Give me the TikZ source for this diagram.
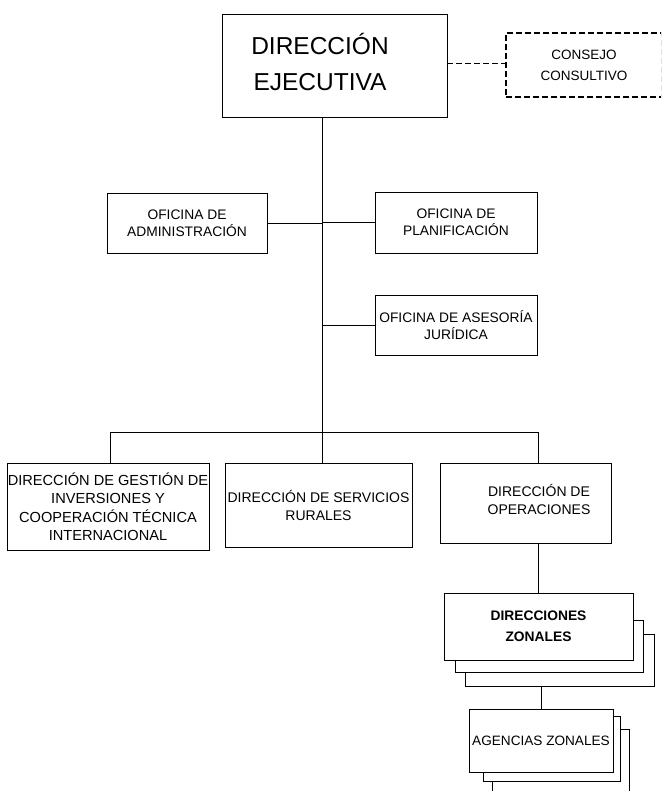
\documentclass[tikz,border=0pt]{standalone}
\usepackage{fontspec}
\setmainfont{Liberation Sans}
\begin{document}
\begin{tikzpicture}[x=1pt,y=-1pt,line width=0.9pt,
  box/.style={draw,fill=white,rectangle,inner sep=0pt,align=center},
  txt/.style={inner sep=0pt,align=center},
  ofi/.style={font=\fontsize{13.8}{17}\selectfont},
  dir3/.style={font=\fontsize{14}{18}\selectfont},
  cons/.style={draw,dashed,dash pattern=on 6pt off 3pt,line width=1.4pt,rectangle,inner sep=0pt,align=center}]
\path[use as bounding box,clip] (0,0) rectangle (661,791);
\fill[white] (0,0) rectangle (661,791);
% top
\node[box,minimum width=225pt,minimum height=103pt] (dir) at (334.5,65.5) {};
\node[txt,font=\fontsize{24.5}{36}\selectfont] (dirt) at (320,62) {DIRECCIÓN\\EJECUTIVA};
\node[cons,minimum width=156pt,minimum height=64pt,font=\fontsize{13.5}{21}\selectfont] (cons) at (584,65) {CONSEJO\\CONSULTIVO};
\draw[dashed,dash pattern=on 6pt off 3pt] (dir.east |- 0,63) -- (cons.west |- 0,63);
% offices
\node[box,ofi,minimum width=160pt,minimum height=60pt] (adm) at (187,223) {OFICINA DE\\ADMINISTRACIÓN};
\node[box,ofi,minimum width=162pt,minimum height=61pt] (plan) at (456,222.5) {OFICINA DE\\PLANIFICACIÓN};
\node[box,ofi,minimum width=162pt,minimum height=60pt] (jur) at (456,325) {OFICINA DE ASESORÍA\\JURÍDICA};
% directorates
\node[box,minimum width=202pt,minimum height=87pt,font=\fontsize{14.6}{18.5}\selectfont] (gest) at (108,506.5) {DIRECCIÓN DE GESTIÓN DE\\INVERSIONES Y\\COOPERACIÓN TÉCNICA\\INTERNACIONAL};
\node[box,dir3,minimum width=187pt,minimum height=84pt] (serv) at (318.5,505) {DIRECCIÓN DE SERVICIOS\\RURALES};
\node[box,minimum width=171pt,minimum height=80pt] (oper) at (525.5,503) {};
\node[txt,dir3] (opert) at (539,499) {DIRECCIÓN DE\\OPERACIONES};
% zonal directorates with stacked shadows
\node[box,minimum width=189pt,minimum height=52pt] (dzs2) at (559.5,660) {};
\node[box,minimum width=188pt,minimum height=52pt] (dzs1) at (549,646) {};
\node[box,minimum width=189pt,minimum height=67pt,font=\bfseries\fontsize{13.8}{21}\selectfont] (dz) at (538.5,626.5) {DIRECCIONES\\ZONALES};
% zonal agencies with stacked shadows
\node[box,minimum width=137pt,minimum height=80pt] (azs2) at (560.5,769) {};
\node[box,minimum width=137pt,minimum height=65pt] (azs1) at (551.5,748.5) {};
\node[box,minimum width=144pt,minimum height=63pt,font=\fontsize{13.6}{17}\selectfont] (az) at (541,740.5) {AGENCIAS ZONALES};
% connectors
\coordinate (t) at (322,117);
\coordinate (bus) at (322,432);
\draw (t) -- (t |- serv.north);
\draw (adm.east) -- (adm.east -| t);
\draw (plan.west) -- (plan.west -| t);
\draw (jur.west) -- (jur.west -| t);
\draw (gest.north -| 110,0) -- (110,0 |- bus) -- (bus -| dz.north) -- (oper.north -| dz.north);
\draw (oper.south -| dz.north) -- (dz.north);
\draw (dzs2.south -| az.north) -- (az.north);
\end{tikzpicture}
\end{document}
